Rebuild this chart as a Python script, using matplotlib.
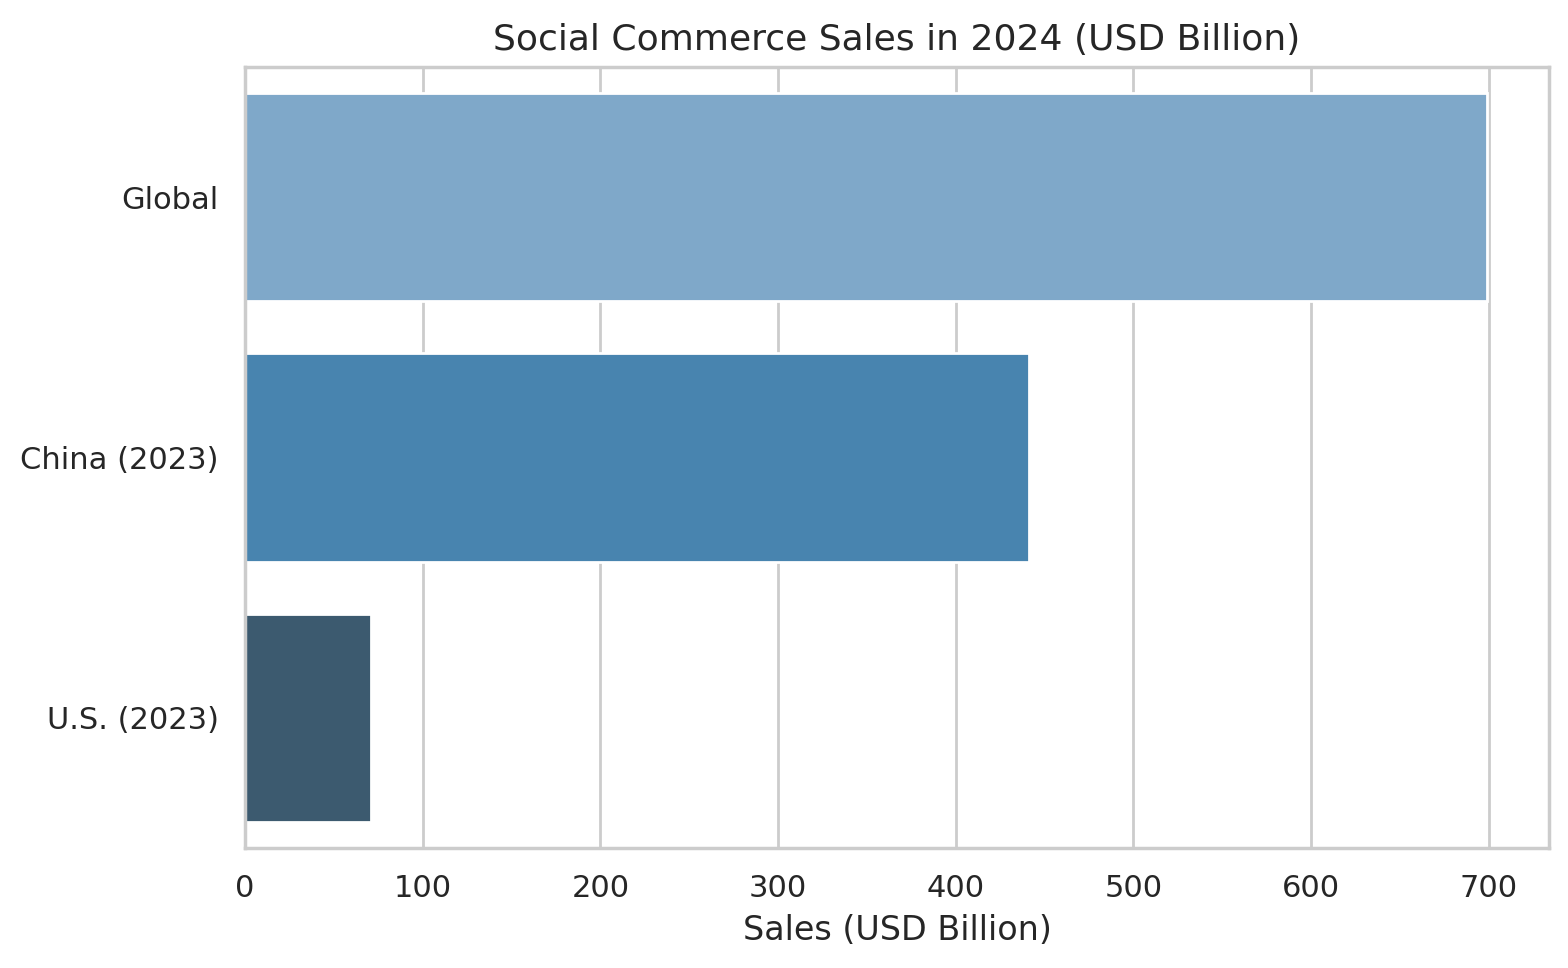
import matplotlib
matplotlib.use("Agg")
import matplotlib.pyplot as plt
import seaborn as sns

regions = ["Global", "China (2023)", "U.S. (2023)"]
sales = [699, 441, 71]
colors = ["#7fa8c9", "#4884af", "#3c5a6f"]

sns.set_theme(style="whitegrid")
fig = plt.figure(figsize=(7.84, 4.84), dpi=200)
ax = fig.add_axes([245/1568, 1-848/968, (1549-245)/1568, (848-67)/968])

ax.barh(range(len(regions)), sales, color=colors, height=0.8)
ax.set_yticks(range(len(regions)))
ax.set_yticklabels(regions)
ax.set_ylim(2.5, -0.5)
ax.set_xlim(0, max(sales) * 1.05)
ax.grid(axis="y", visible=False)
ax.set_xlabel("Sales (USD Billion)")
ax.set_title("Social Commerce Sales in 2024 (USD Billion)", fontsize=13)

fig.savefig("out.png", dpi=200)
